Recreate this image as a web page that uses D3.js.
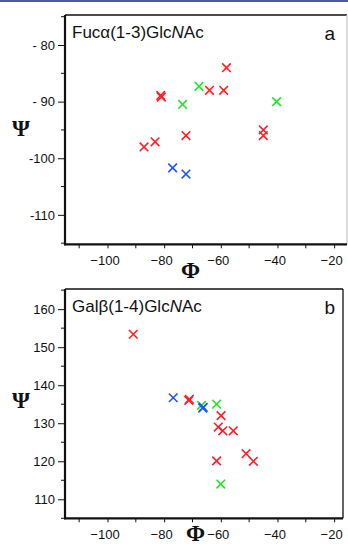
<!DOCTYPE html>
<html>
<head>
<meta charset="utf-8">
<script src="https://cdn.jsdelivr.net/npm/d3@7"></script>
<style>
  body { margin: 0; background: #fff; }
  svg { display: block; }
</style>
</head>
<body>
<svg id="chart" width="348" height="547"></svg>
<script>
// tick values / labels
var phiTicks = [-100, -80, -60, -40, -20]
var phiMinor = [-110, -90, -70, -50, -30]
var psiTicksA = [-80, -90, -100, -110]
var psiLabelsA = ['- 80', '- 90', '-100', '-110']
var psiMinorA = [-75, -85, -95, -105, -115]
var psiTicksB = [110, 120, 130, 140, 150, 160]
var psiMinorB = [105, 115, 125, 135, 145, 155, 165]

// panel a : Fuc(1-3)GlcNAc  [phi, psi]
var redA = [[-58, -84], [-64, -88], [-59, -88], [-81, -89.2], [-81.2, -88.9],
    [-72.3, -96], [-83.2, -97.1], [-87.1, -98], [-45, -95], [-45, -96]]
var greenA = [[-67.7, -87.3], [-73.5, -90.5], [-40.3, -90]]
var blueA = [[-77, -101.7], [-72.3, -102.8]]

// panel b : Gal(1-4)GlcNAc
var redB = [[-90.9, 153.4], [-71.1, 136.3], [-71.3, 136], [-59.9, 132], [-60.9, 129],
    [-59.3, 128], [-55.6, 128], [-51.1, 122], [-48.5, 120], [-61.5, 120.1]]
var greenB = [[-66.8, 134.7], [-61.5, 135], [-60, 114]]
var blueB = [[-76.8, 136.7], [-66.2, 134.2], [-66.4, 134]]

var colors = ['#ff1e28', '#22e626', '#1f55ff']

var svg = d3.select('#chart')
svg.append('rect').attr('x', 0).attr('y', 0).attr('width', 348).attr('height', 2).attr('fill', '#4e5b9c')

function panel(p) {
    var g = svg.append('g')
    var x = d3.scaleLinear().domain([-115, -15]).range([65, 348.3])
    var y = d3.scaleLinear().domain(p.yDomain).range([p.bottom, p.top])

    // frame: top + right thin
    g.append('line').attr('x1', 65).attr('x2', p.right).attr('y1', p.top).attr('y2', p.top)
        .attr('stroke', '#111').attr('stroke-width', 1.3)
    g.append('line').attr('x1', p.right).attr('x2', p.right).attr('y1', p.top).attr('y2', p.bottom)
        .attr('stroke', p.rightColor).attr('stroke-width', 1.3)

    // x axis
    var xa = g.append('g').attr('transform', 'translate(0,' + p.bottom + ')')
        .call(d3.axisBottom(x).tickValues(phiTicks).tickSize(4).tickSizeOuter(0))
    xa.select('.domain').remove()
    xa.selectAll('text').attr('dx', -3).attr('dy', '1.05em')
    xa.append('g').selectAll('line').data(phiMinor).enter().append('line')
        .attr('x1', d => x(d)).attr('x2', d => x(d)).attr('y1', 0).attr('y2', 4).attr('stroke', '#111')

    // y axis
    var ya = g.append('g').attr('transform', 'translate(65,0)')
        .call(d3.axisLeft(y).tickValues(p.yTicks).tickSize(7).tickPadding(3)
            .tickFormat((d, i) => p.yLabels ? p.yLabels[i] : d))
    ya.select('.domain').remove()
    ya.append('g').selectAll('line').data(p.yMinor).enter().append('line')
        .attr('x1', -4).attr('x2', 0).attr('y1', d => y(d)).attr('y2', d => y(d)).attr('stroke', '#111')

    g.selectAll('.tick line').attr('stroke', '#111')
    g.selectAll('.tick text').attr('font-family', 'Liberation Sans, Arial, sans-serif')
        .attr('font-size', 13).attr('fill', '#111')

    // thick left + bottom
    g.append('line').attr('x1', 65).attr('x2', 65).attr('y1', p.top).attr('y2', p.bottom + 1)
        .attr('stroke', '#111').attr('stroke-width', 2.2)
    g.append('line').attr('x1', 64).attr('x2', p.right).attr('y1', p.bottom).attr('y2', p.bottom)
        .attr('stroke', '#111').attr('stroke-width', 2.2)

    // points
    p.series.forEach(function (s, k) {
        g.append('g').attr('stroke', colors[k]).attr('stroke-width', 1.6).attr('fill', 'none')
            .selectAll('path').data(s).enter().append('path')
            .attr('d', function (d) {
                var cx = x(d[0]), cy = y(d[1]), r = 4.3
                return 'M' + (cx - r) + ',' + (cy - r) + 'L' + (cx + r) + ',' + (cy + r) +
                    'M' + (cx - r) + ',' + (cy + r) + 'L' + (cx + r) + ',' + (cy - r)
            })
    })

    // title
    var t = g.append('text').attr('x', 72).attr('y', p.top + 23)
        .attr('font-family', 'Liberation Sans, Arial, sans-serif').attr('font-size', 17).attr('fill', '#111')
    t.append('tspan').text(p.title)
    t.append('tspan').attr('font-style', 'italic').text('N')
    t.append('tspan').text('Ac')
    g.append('text').attr('x', 335).attr('y', p.top + 25).attr('text-anchor', 'end')
        .attr('font-family', 'Liberation Sans, Arial, sans-serif').attr('font-size', 19).attr('fill', '#111')
        .text(p.letter)

    // axis titles
    g.append('text').attr('x', 21).attr('y', p.psiY).attr('text-anchor', 'middle')
        .attr('font-family', 'Liberation Serif, Times New Roman, serif').attr('font-size', 23)
        .attr('font-weight', 'bold').attr('fill', '#111').text('\u03A8')
    g.append('text').attr('x', p.phiX).attr('y', p.bottom + p.phiDy).attr('text-anchor', 'middle')
        .attr('font-family', 'Liberation Serif, Times New Roman, serif').attr('font-size', 23)
        .attr('font-weight', 'bold').attr('fill', '#111').text('\u03A6')
}

panel({
    top: 15, bottom: 244.3, right: 347, rightColor: '#c8c8c8',
    yDomain: [-115.2, -74.7], yTicks: psiTicksA, yLabels: psiLabelsA, yMinor: psiMinorA,
    series: [redA, greenA, blueA],
    title: 'Fuc\u03B1(1-3)Glc', letter: 'a', psiY: 136, phiX: 190.5, phiDy: 34
})
panel({
    top: 289, bottom: 518.3, right: 343, rightColor: '#111',
    yDomain: [105, 165.3], yTicks: psiTicksB, yMinor: psiMinorB,
    series: [redB, greenB, blueB],
    title: 'Gal\u03B2(1-4)Glc', letter: 'b', psiY: 408, phiX: 195.5, phiDy: 23
})
</script>
</body>
</html>
